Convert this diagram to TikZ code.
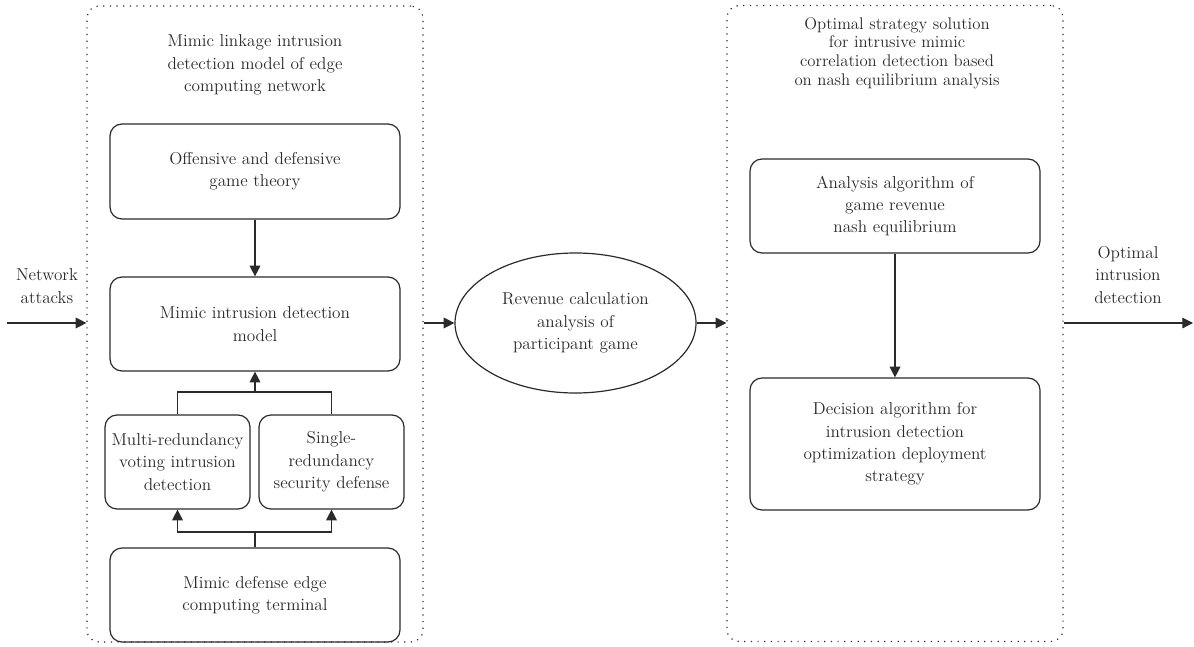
\documentclass[tikz,border=0pt]{standalone}
\usetikzlibrary{arrows.meta,shapes.geometric}
\definecolor{ink}{HTML}{2A2A2A}
\begin{document}
\begin{tikzpicture}[x=0.75pt,y=-0.75pt,
  every node/.style={text=ink, font=\fontsize{12.9}{16.8}\selectfont, align=center},
  box/.style={draw=ink, line width=0.9pt, rounded corners=9pt, inner sep=2pt},
  wide/.style={box, minimum width=217.5pt, minimum height=70.5pt},
  half/.style={box, minimum width=108.75pt, minimum height=70.5pt},
  group/.style={draw=ink, line width=0.9pt, dash pattern=on 0.9pt off 4.1pt, rounded corners=9pt,
    minimum width=252pt, minimum height=477pt, inner sep=0pt},
  arr/.style={draw=ink, line width=0.9pt, -{Triangle[length=8pt,width=8pt]}},
  ln/.style={draw=ink, line width=0.9pt}]
\useasboundingbox (0,0) rectangle (1194,646);

% dotted group frames
\node[group] (leftc) at (255,324) {};
\node[group] (rightc) at (895,323.5) {};

% group titles
\node (lt) at (255,65) {Mimic linkage intrusion\\detection model of edge\\computing network};
\node[font=\fontsize{12.6}{13.9}\selectfont] (rt) at (897,53) {Optimal strategy solution\\for intrusive mimic\\correlation detection based\\on nash equilibrium analysis};

% left group boxes
\node[wide, minimum height=71.25pt] (off) at (255,171.5) {Offensive and defensive\\game theory};
\node[wide] (mid) at (255,324) {Mimic intrusion detection\\model};
\node[half] (multi) at (177.5,462) {Multi-redundancy\\voting intrusion\\detection};
\node[half] (single) at (331.5,462) {Single-\\redundancy\\security defense};
\node[wide] (term) at (255,595) {Mimic defense edge\\computing terminal};

% middle ellipse
\node[draw=ink, line width=0.9pt, ellipse, minimum width=180.75pt, minimum height=105pt, inner sep=0pt] (ell) at (575.5,323) {Revenue calculation\\analysis of\\participant game};

% right group boxes
\node[wide] (anal) at (895,206) {Analysis algorithm of\\game revenue\\nash equilibrium};
\node[wide, minimum height=99pt] (dec) at (895,444) {Decision algorithm for\\intrusion detection\\optimization deployment\\strategy};

% outer labels
\node (na) at (47,286) {Network\\attacks};
\node (oid) at (1128,275) {Optimal\\intrusion\\detection};

% connectors inside the left group
\draw[arr] (off) -- (mid);
\coordinate (j1) at (255,392);
\draw[ln] (multi.north) |- (j1) -| (single.north);
\draw[arr] (j1) -- (mid.south);
\coordinate (j2) at (255,532);
\draw[ln] (term.north) -- (j2);
\draw[arr] (j2) -| (multi.south);
\draw[arr] (j2) -| (single.south);

% connectors inside the right group
\draw[arr] (anal) -- (dec);

% main flow
\coordinate (src) at (7,323);
\coordinate (dst) at (1193,323);
\draw[arr] (src) -- (leftc.west |- src);
\draw[arr] (leftc.east |- ell) -- (ell.west);
\draw[arr] (ell.east) -- (rightc.west |- ell);
\draw[arr] (rightc.east |- ell) -- (dst);
\end{tikzpicture}
\end{document}
